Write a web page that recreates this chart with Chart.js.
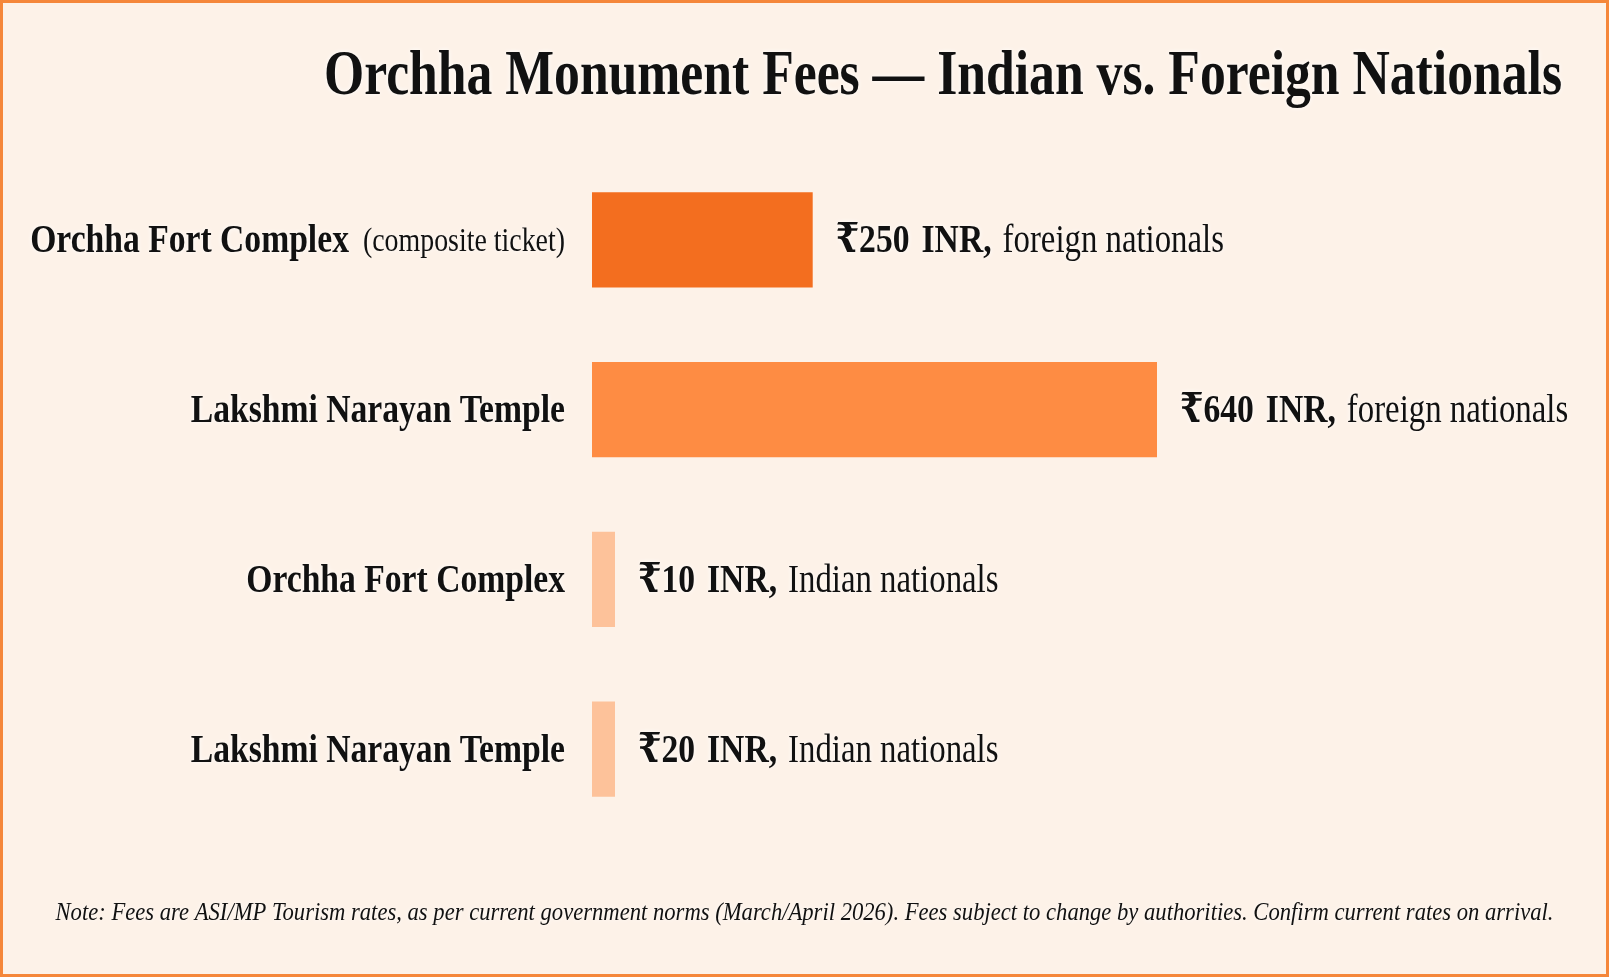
<!DOCTYPE html>
<html>
<head>
<meta charset="utf-8">
<script src="https://cdn.jsdelivr.net/npm/chart.js@4.4.1/dist/chart.umd.min.js"></script>
<style>
  html, body { margin: 0; padding: 0; background: #fdf2e8; }
  #wrap { width: 1609px; height: 977px; position: relative; }
</style>
</head>
<body>
<div id="wrap"><canvas id="fees-chart"></canvas></div>
<script>
;(function () {
  const categories = ['Orchha Fort Complex', 'Lakshmi Narayan Temple', 'Orchha Fort Complex', 'Lakshmi Narayan Temple']
  const categoryNotes = ['(composite ticket)', '', '', '']
  const fees = [250, 640, 10, 20]
  const visitorGroups = ['foreign nationals', 'foreign nationals', 'Indian nationals', 'Indian nationals']
  const barColors = ['#f36e1f', '#fe8c43', '#fdc29a', '#fdc29a']

  const TITLE = 'Orchha Monument Fees \u2014 Indian vs. Foreign Nationals'
  const NOTE = 'Note: Fees are ASI/MP Tourism rates, as per current government norms (March/April 2026). Fees subject to change by authorities. Confirm current rates on arrival.'

  const SERIF = '"Liberation Serif", "DejaVu Serif", serif'
  const SQUEEZE = 0.82

  // draws a row of text pieces, horizontally condensed
  function drawPieces(ctx, pieces, x, y, align, squeeze = SQUEEZE) {
    let total = 0
    const widths = pieces.map((p) => {
      ctx.font = p.font
      const w = ctx.measureText(p.text).width * squeeze
      total += w + (p.gap || 0)
      return w
    })
    let cx = align === 'right' ? x - total : align === 'center' ? x - total / 2 : x
    pieces.forEach((p, i) => {
      cx += p.gap || 0
      ctx.save()
      ctx.font = p.font
      ctx.translate(cx, y)
      ctx.scale(squeeze, 1)
      ctx.textAlign = 'left'
      ctx.textBaseline = 'middle'
      ctx.fillStyle = '#111'
      ctx.shadowColor = 'rgba(255,255,255,0.95)'
      ctx.shadowBlur = 5
      ctx.fillText(p.text, 0, 0)
      ctx.restore()
      cx += widths[i]
    })
  }

  const backdrop = {
    id: 'backdrop',
    beforeDraw(chart) {
      const { ctx, width, height } = chart
      ctx.save()
      ctx.fillStyle = '#fdf2e8'
      ctx.fillRect(0, 0, width, height)
      ctx.strokeStyle = '#f5873a'
      ctx.lineWidth = 4
      ctx.strokeRect(1, 1, width - 2, height - 2)
      ctx.restore()
    }
  }

  const textLayer = {
    id: 'textLayer',
    afterDraw(chart) {
      const { ctx, width } = chart
      const meta = chart.getDatasetMeta(0)
      const yScale = chart.scales.y
      const area = chart.chartArea

      drawPieces(ctx, [{ text: TITLE, font: `bold 63px ${SERIF}` }], 1562, 78, 'right')

      categories.forEach((name, i) => {
        const y = yScale.getPixelForValue(i) + 2
        const pieces = [{ text: name, font: `bold 41px ${SERIF}` }]
        if (categoryNotes[i]) pieces.push({ text: categoryNotes[i], font: `34px ${SERIF}`, gap: 14 })
        drawPieces(ctx, pieces, area.left - 27, y, 'right')

        const bar = meta.data[i]
        drawPieces(ctx, [
          { text: `\u20b9${fees[i]}`, font: `bold 41px ${SERIF}` },
          { text: 'INR,', font: `bold 41px ${SERIF}`, gap: 12 },
          { text: visitorGroups[i], font: `40px ${SERIF}`, gap: 11 }
        ], bar.x + 23, y, 'left')
      })

      drawPieces(ctx, [{ text: NOTE, font: `italic 26px ${SERIF}` }], width / 2, 913, 'center', 0.87)
    }
  }

  new Chart(document.getElementById('fees-chart'), {
    type: 'bar',
    data: {
      labels: categories,
      datasets: [{
        data: fees,
        backgroundColor: barColors,
        borderWidth: 0,
        barPercentage: 1,
        categoryPercentage: 0.56,
        minBarLength: 23
      }]
    },
    options: {
      indexAxis: 'y',
      responsive: true,
      maintainAspectRatio: false,
      animation: false,
      layout: { padding: { left: 592, right: 452, top: 155, bottom: 143 } },
      plugins: { legend: { display: false }, tooltip: { enabled: false }, title: { display: false } },
      scales: {
        x: { display: false, min: 0, max: Math.max(...fees) },
        y: { display: false }
      }
    },
    plugins: [backdrop, textLayer]
  })
})()
</script>
</body>
</html>
